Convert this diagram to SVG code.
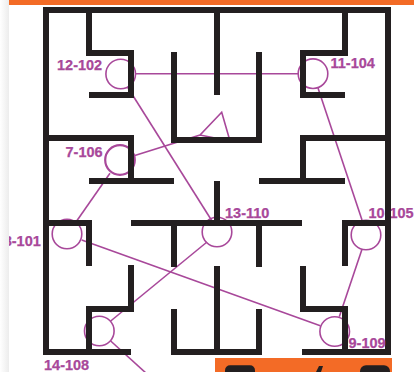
<svg xmlns="http://www.w3.org/2000/svg" width="414" height="372" viewBox="0 0 414 372">
<style>
.w{fill:none;stroke:#231f20;stroke-width:6;stroke-linecap:butt;stroke-linejoin:miter}
.c{fill:none;stroke:#a8489a;stroke-width:1.6}
.l{font-family:"Liberation Sans",Arial,sans-serif;font-weight:700;font-size:14.5px;fill:#a8489a;stroke:#a8489a;stroke-width:.25}
.d{fill:#231f20}
</style>
<defs><linearGradient id="g" x1="0" x2="1" y1="0" y2="0"><stop offset="0" stop-color="#ffffff"/><stop offset="1" stop-color="#ececec"/></linearGradient></defs>
<rect width="414" height="372" fill="#fff"/>
<rect x="9" y="0" width="405" height="5" fill="#f36b26"/>
<g id="connectors">
<path class="c" d="M135 73.7H298"/>
<path class="c" d="M127.500 87L212 221"/>
<path class="c" d="M134 155.700L200 135L221.700 112.300L230 141L200 135"/>
<path class="c" d="M110 173.300L76.700 221"/>
<path class="c" d="M81.700 240L320.300 325.700"/>
<path class="c" d="M207 242L110.700 321"/>
<path class="c" d="M110.700 341L147 374"/>
<path class="c" d="M318 88L362 220"/>
<path class="c" d="M362 249.300L339.300 316.700"/>
</g>
<g id="node-12-102"><circle class="c" cx="120.700" cy="74" r="14.800"/><text class="l" x="57" y="70">12-102</text></g>
<g id="node-7-106"><circle class="c" style="stroke-width:2.200" cx="120" cy="160" r="14.800"/><text class="l" x="65.500" y="156.700">7-106</text></g>
<g id="node-11-104"><circle class="c" cx="313" cy="73.700" r="14.800"/><text class="l" x="330.500" y="68.300">11-104</text></g>
<g id="node-8-101"><circle class="c" cx="67" cy="234" r="14.800"/><text class="l" x="3.700" y="246">8-101</text></g>
<g id="node-13-110"><circle class="c" cx="217" cy="232" r="14.800"/><text class="l" x="225" y="218.300">13-110</text></g>
<g id="node-10-105"><circle class="c" cx="366" cy="235" r="14.800"/><text class="l" x="368.500" y="218.300">10-105</text></g>
<g id="node-9-109"><circle class="c" cx="334.700" cy="331.500" r="14.800"/></g>
<g id="node-14-108"><circle class="c" cx="99.300" cy="331" r="14.800"/><text class="l" x="44" y="370">14-108</text></g>
<g id="walls">
<path class="w" d="M131 352H46V10H388V352H302"/>
<path class="w" d="M89 10V53H131V95H89"/>
<path class="w" d="M345 10V53H303V95H345"/>
<path class="w" d="M174 52V140H259V52"/>
<path class="w" d="M217 10V95"/>
<path class="w" d="M46 138H131V181"/>
<path class="w" d="M89 181H174"/>
<path class="w" d="M388 138H303V181"/>
<path class="w" d="M259 181H345"/>
<path class="w" d="M217 181V223"/>
<path class="w" d="M131 223H302"/>
<path class="w" d="M174 223V267"/>
<path class="w" d="M259 223V267"/>
<path class="w" d="M46 223H89V266"/>
<path class="w" d="M388 223H345V266"/>
<path class="w" d="M131 265V309H89V352"/>
<path class="w" d="M303 266V309H345V352"/>
<path class="w" d="M174 309V352H259V309"/>
<path class="w" d="M217 266V352"/>
</g>
<text class="l" x="348.500" y="347.700">9-109</text>
<rect x="0" y="0" width="9" height="372" fill="url(#g)"/>
<rect x="215" y="358" width="177" height="14" fill="#f36b26"/>
<rect class="d" x="225" y="365.300" width="30" height="12" rx="5"/>
<path class="d" d="M316 372L319 366H323L321 372Z"/>
<rect class="d" x="360" y="365.300" width="30" height="12" rx="6"/>
</svg>
